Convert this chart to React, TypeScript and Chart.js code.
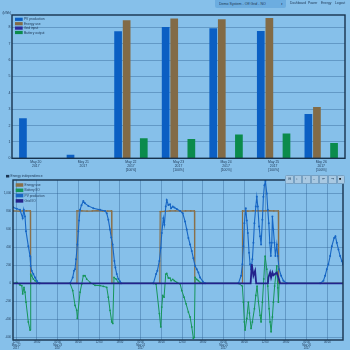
import React, { useEffect, useRef } from "react";
import { Chart, registerables } from "chart.js";
Chart.register(...registerables);

const BG = "#86c0ea";
const INK = "#1c3553";
const FRAME = "#17324d";
const GRID = "rgba(45,95,145,0.5)";
const FONT = "Liberation Sans";

// ---------- Top chart (daily energy, kWh) ----------
const dayLabels = [
  ["May 20", "2017"],
  ["May 21", "2017"],
  ["May 22", "2017", "[100%]"],
  ["May 23", "2017", "[100%]"],
  ["May 24", "2017", "[100%]"],
  ["May 25", "2017", "[100%]"],
  ["May 26", "2017", "[100%]"],
];
const pvDaily = [2.44, 0.22, 7.76, 8.02, 7.94, 7.78, 2.7];
const useDaily = [0, 0, 8.43, 8.54, 8.49, 8.57, 3.13];
const gridDaily = [0, 0, 0, 0, 0, 0, 0];
const batteryDaily = [0, 0, 1.22, 1.18, 1.46, 1.52, 0.93];
const kwhTicks = [0, 1, 2, 3, 4, 5, 6, 7, 8];

// ---------- Bottom chart (power, W; x in hours from May 22 12:00) ----------
const hourTicks = [0, 6, 12, 18, 24, 30, 36, 42, 48, 54, 60, 66, 72, 78, 84, 90];
const hourTickLabels: (string | string[])[] = [
  ["12:00", "May 22", "2017"], "18:00", ["00:00", "May 23", "2017"], "06:00",
  "12:00", "18:00", ["00:00", "May 24", "2017"], "06:00",
  "12:00", "18:00", ["00:00", "May 25", "2017"], "06:00",
  "12:00", "18:00", ["00:00", "May 26", "2017"], "06:00",
];
const powerTicks = [-600, -400, -200, 0, 200, 400, 600, 800, 1000];

const pvTimes = [
  -0.9, 0.2, 1.13, 1.9, 2.2, 2.57, 2.86, 3.53, 4.02, 4.22, 4.51, 4.97, 5.47, 5.96, 6.42, 6.8,
  15.59, 16.37, 16.74, 17.03, 17.32, 17.7, 17.99, 18.2, 18.48, 18.9, 19.43, 19.92, 20.88, 22.33, 24.26, 25.71, 26.2, 26.66, 27.15, 27.5, 27.9, 28.4, 28.69, 29.09, 29.55, 30.05, 30.4,
  39.68, 40.46, 40.83, 41.41, 41.82, 42.11, 42.57, 42.86, 43.26, 43.55, 44.01, 44.51, 44.79, 45.29, 45.75, 46.44, 47.4, 48.18, 48.84, 49.33, 49.8, 50.29, 50.78, 51.24, 51.73, 52.23, 52.69, 53.18, 53.96, 54.63,
  64.26, 65.04, 65.41, 65.7, 65.99, 66.4, 66.69, 66.98, 67.35, 67.64, 67.93, 68.31, 68.6, 68.89, 69.29, 69.58, 69.87, 70.24, 70.53, 70.82, 71.2, 71.49, 71.78, 72.07, 72.47, 72.76, 73.05, 73.34, 73.63, 73.92, 74.09, 74.38, 74.67, 74.96, 75.36, 75.65, 76.03, 76.61, 77.27, 78.25,
  87.88, 88.84, 89.33, 89.82, 90.28, 90.78, 91.27, 91.93, 92.31, 92.71, 93.18, 93.67, 94.16, 94.5,
];
const pvPower = [
  846, 830, 818, 725, 820, 744, 579, 414, 304, 195, 140, 103, 66, 30, 4, 0,
  0, 66, 140, 158, 268, 433, 579, 700, 818, 870, 916, 890, 862, 835, 818, 806, 780, 708, 598, 510, 433, 250, 176, 103, 48, 22, 0,
  0, 103, 140, 250, 396, 561, 725, 652, 854, 927, 872, 879, 835, 854, 843, 828, 806, 780, 689, 598, 505, 433, 359, 279, 195, 158, 121, 66, 22, 0,
  0, 85, 213, 414, 670, 835, 700, 561, 341, 213, 158, 268, 451, 670, 854, 964, 854, 634, 524, 433, 708, 964, 1092, 1140, 1000, 818, 670, 451, 304, 451, 744, 598, 451, 304, 433, 304, 158, 85, 30, 0,
  0, 30, 85, 158, 213, 304, 414, 505, 524, 451, 378, 304, 250, 213,
];

const useTimes = [
  -0.9, 1, 2, 3, 4.1, 4.2, 17.52, 17.6, 19, 20.5, 22, 23.5, 25, 26.5, 27.6, 27.7,
  41.55, 41.65, 43, 44.5, 46, 47.5, 49, 50.5, 51.55, 51.65, 65.35, 65.45, 67, 68.5, 70, 71.5, 73, 74.5, 75.8, 75.9, 94.5,
];
const usePower = [
  806, 804, 808, 806, 806, 0, 0, 806, 808, 804, 806, 810, 806, 804, 806, 0,
  0, 799, 802, 806, 808, 804, 806, 806, 806, 0, 0, 806, 804, 808, 806, 806, 810, 806, 806, 0, 0,
];

const batteryTimes = [
  -0.9, 0.2, 1.13, 1.65, 1.9, 2.28, 2.57, 2.86, 3.53, 4.02, 4.22, 4.51, 4.97, 5.47, 5.96, 6.42, 6.8,
  15.59, 16.37, 17.03, 17.52, 17.7, 18.48, 18.97, 19.43, 19.92, 20.41, 21.37, 22.82, 24.26, 25.22, 26.2, 26.66, 27.15, 27.65, 27.94, 28.3, 28.92, 29.55, 30.05,
  39.68, 40.46, 41.41, 41.82, 42.11, 42.39, 42.77, 43.26, 43.55, 44.01, 44.51, 44.79, 45.29, 45.75, 46.44, 47.4, 47.89, 48.55, 49.13, 49.8, 50.29, 50.78, 51.24, 51.5, 51.75, 52.23, 52.69, 53.18, 53.96,
  64.26, 65.41, 65.7, 65.99, 66.2, 66.69, 67.15, 67.44, 67.93, 68.31, 68.89, 69.29, 69.66, 70.04, 70.53, 70.82, 71.2, 71.6, 71.98, 72.47, 72.76, 73.13, 73.42, 73.71, 74.09, 74.38, 74.73, 75.36, 75.65, 75.82, 76.03, 94.5,
];
const batteryPower = [
  0, 10, -18, -25, -117, -44, -99, -209, -429, -520, 103, 85, 48, 30, 12, 4, 0,
  0, -80, -245, -300, -390, -99, -7, 85, 85, 48, 11, -22, -25, -33, -44, -154, -300, -429, -446, 66, 48, 11, 0,
  0, -7, -336, -484, -264, -135, -154, 103, 110, 60, 59, 30, 44, 30, 11, -5, -80, -154, -227, -319, -374, -484, -611, -600, 66, 44, 30, 11, 0,
  0, -30, -209, -429, -520, -391, -209, -330, -501, -429, -282, -135, -30, -200, -355, -429, -209, 50, 304, 158, -30, -282, -429, -538, -374, -209, -30, 195, -50, -209, 0, 0,
];

const gridTimes = [-0.9, 67.8, 68.13, 68.6, 69.09, 69.4, 72.8, 72.93, 73.42, 73.71, 74.09, 74.38, 75.36, 75.82, 76.32, 94.5];
const gridPower = [0, 0, 213, 85, 140, 0, 0, 66, 121, 66, 121, 90, 121, 66, 0, 0];

const toPoints = (xs: number[], ys: number[]) => xs.map((x, i) => ({ x, y: ys[i] }));

// ---------- small plugins ----------
function legendPlugin(cfg: { x: number; y: number; step: number; bw: number; bh: number; size: number; order: number[] }) {
  return {
    id: "inlineLegend",
    afterDatasetsDraw(chart: any) {
      const ctx = chart.ctx;
      ctx.save();
      ctx.font = `${cfg.size}px "${FONT}"`;
      ctx.textBaseline = "middle";
      cfg.order.forEach((idx, k) => {
        const ds = chart.data.datasets[idx];
        const y = cfg.y + k * cfg.step;
        ctx.fillStyle = ds.legendColor;
        ctx.fillRect(cfg.x, y - cfg.bh / 2, cfg.bw, cfg.bh);
        ctx.fillStyle = INK;
        ctx.fillText(ds.label, cfg.x + cfg.bw + 1.2, y + 0.2);
      });
      ctx.restore();
    },
  };
}

function framePlugin(width: number) {
  return {
    id: "frame",
    afterDraw(chart: any) {
      const { ctx, chartArea: a } = chart;
      ctx.save();
      ctx.strokeStyle = FRAME;
      ctx.lineWidth = width;
      ctx.strokeRect(a.left, a.top, a.right - a.left, a.bottom - a.top);
      ctx.restore();
    },
  };
}

function textPlugin(items: { text: string; x: number; y: number; size: number; icon?: boolean }[]) {
  return {
    id: "texts",
    afterDraw(chart: any) {
      const ctx = chart.ctx;
      ctx.save();
      ctx.textBaseline = "middle";
      items.forEach((it) => {
        ctx.font = `${it.size}px "${FONT}"`;
        ctx.fillStyle = INK;
        if (it.icon) ctx.fillRect(it.x - 4.5, it.y - 1.3, 3.3, 2.6);
        ctx.fillText(it.text, it.x, it.y);
      });
      ctx.restore();
    },
  };
}

function Tiny({ x, y, size, children, color = INK }: any) {
  return (
    <div
      style={{
        position: "absolute",
        left: x,
        top: y,
        fontSize: size * 3,
        lineHeight: 1,
        transform: "scale(0.3333)",
        transformOrigin: "0 0",
        whiteSpace: "nowrap",
        fontFamily: FONT,
        color,
      }}
    >
      {children}
    </div>
  );
}

const toolIcons = ["⊟", "↕", "‹", "–", "⇤", "⇥", "■"];

export default function App() {
  const topRef = useRef<HTMLCanvasElement>(null);
  const botRef = useRef<HTMLCanvasElement>(null);

  useEffect(() => {
    Chart.defaults.font.family = FONT;

    const barSet = (label: string, data: number[], color: string) => ({
      label,
      data,
      backgroundColor: color,
      legendColor: color,
      categoryPercentage: 0.72,
      barPercentage: 0.9,
      borderWidth: 0,
    });

    const c1 = new Chart(topRef.current!, {
      type: "bar",
      data: {
        labels: dayLabels,
        datasets: [
          barSet("PV production", pvDaily, "#0b5fc3"),
          barSet("Energy use", useDaily, "#826b46"),
          barSet("Grid input", gridDaily, "#2b2c9c"),
          barSet("Battery output", batteryDaily, "#0b8b4c"),
        ] as any,
      },
      options: {
        animation: false,
        responsive: false,
        layout: { padding: { top: 15, right: 5, left: 0, bottom: 0 } },
        plugins: { legend: { display: false }, tooltip: { enabled: false } },
        scales: {
          x: {
            grid: { display: false, drawTicks: false, tickLength: 0 },
            border: { display: false },
            ticks: { color: INK, font: { size: 3.4, lineHeight: 1.08 }, padding: 2.2, maxRotation: 0, autoSkip: false },
            afterFit: (s: any) => { s.height = 13.7; },
          },
          y: {
            min: 0,
            max: 8.75,
            afterBuildTicks: (s: any) => { s.ticks = kwhTicks.map((v) => ({ value: v })); },
            grid: { color: GRID, lineWidth: 0.8, drawTicks: false },
            border: { display: false },
            ticks: { color: INK, font: { size: 3.5 }, padding: 1.5 },
            afterFit: (s: any) => { s.width = 12; },
          },
        },
      } as any,
      plugins: [
        framePlugin(1.4),
        legendPlugin({ x: 15, y: 19.3, step: 4.4, bw: 7.7, bh: 3.2, size: 3.3, order: [0, 1, 2, 3] }),
        textPlugin([{ text: "(kWh)", x: 2.5, y: 13.4, size: 3.2 }]),
      ],
    });

    const lineSet = (label: string, pts: any[], color: string, width: number, radius: number) => ({
      label,
      data: pts,
      borderColor: color,
      backgroundColor: color,
      legendColor: color,
      borderWidth: width,
      pointRadius: radius,
      pointBorderWidth: 0,
      pointBackgroundColor: color,
      pointHoverRadius: 0,
      tension: 0,
      fill: false,
    });

    const c2 = new Chart(botRef.current!, {
      type: "line",
      data: {
        datasets: [
          lineSet("Grid I/O", toPoints(gridTimes, gridPower), "#23238c", 1.8, 0),
          lineSet("PV production", toPoints(pvTimes, pvPower), "#1766c4", 1.1, 1),
          lineSet("Battery I/O", toPoints(batteryTimes, batteryPower), "#16955a", 1.0, 0.9),
          lineSet("Energy use", toPoints(useTimes, usePower), "#8a7049", 1.2, 0.8),
        ] as any,
      },
      options: {
        animation: false,
        responsive: false,
        layout: { padding: { top: 8, right: 7, left: 0, bottom: 0 } },
        plugins: { legend: { display: false }, tooltip: { enabled: false } },
        scales: {
          x: {
            type: "linear",
            min: -0.9,
            max: 94.5,
            afterBuildTicks: (s: any) => { s.ticks = hourTicks.map((v) => ({ value: v })); },
            grid: { color: GRID, lineWidth: 0.8, drawTicks: false },
            border: { display: false },
            ticks: {
              color: INK,
              font: { size: 2.7, lineHeight: 1.05 },
              padding: 1.2,
              maxRotation: 0,
              autoSkip: false,
              callback: (_v: any, i: number) => hourTickLabels[i],
            },
            afterFit: (s: any) => { s.height = 10; },
          },
          y: {
            min: -630,
            max: 1150,
            afterBuildTicks: (s: any) => { s.ticks = powerTicks.map((v) => ({ value: v })); },
            grid: { color: GRID, lineWidth: 0.8, drawTicks: false },
            border: { display: false },
            ticks: { color: INK, font: { size: 2.8 }, padding: 2 },
            afterFit: (s: any) => { s.width = 13; },
          },
        },
      } as any,
      plugins: [
        framePlugin(1.4),
        legendPlugin({ x: 15.7, y: 13, step: 5.3, bw: 7.6, bh: 3.5, size: 3.2, order: [3, 2, 1, 0] }),
        textPlugin([{ text: "Energy independence", x: 10.5, y: 4.2, size: 3.3, icon: true }]),
      ],
    });

    return () => {
      c1.destroy();
      c2.destroy();
    };
  }, []);

  return (
    <div style={{ position: "absolute", left: 0, top: 0, width: 350, height: 350, background: BG, overflow: "hidden" }}>
      <canvas ref={topRef} width={350} height={172} style={{ position: "absolute", left: 0, top: 0, display: "block" }} />
      <canvas ref={botRef} width={350} height={178} style={{ position: "absolute", left: 0, top: 172, display: "block" }} />

      {/* header */}
      <div style={{ position: "absolute", left: 215, top: -3, width: 71, height: 11, background: "#6cade0", borderRadius: 2 }} />
      <Tiny x={218.5} y={2.2} size={3.6}>Demo System - Off Grid - NO</Tiny>
      <Tiny x={281} y={2.2} size={3.4}>▾</Tiny>
      <Tiny x={290} y={1.2} size={3.3}>Dashboard</Tiny>
      <Tiny x={308} y={1.2} size={3.3}>Power</Tiny>
      <Tiny x={320.5} y={1.2} size={3.3}>Energy</Tiny>
      <Tiny x={335} y={1.2} size={3.3}>Logout</Tiny>

      {/* zoom toolbar */}
      {toolIcons.map((ic, i) => (
        <div
          key={i}
          style={{
            position: "absolute",
            left: 285 + i * 8.6,
            top: 174.5,
            width: 8.6,
            height: 9.5,
            boxSizing: "border-box",
            background: "#a9c9e2",
            border: "0.6px solid #78a2c4",
            borderRadius: i === 0 ? "1.5px 0 0 1.5px" : i === toolIcons.length - 1 ? "0 1.5px 1.5px 0" : 0,
          }}
        />
      ))}
      {toolIcons.map((ic, i) => (
        <Tiny key={"t" + i} x={287.6 + i * 8.6} y={177.3} size={3.6} color={i === toolIcons.length - 1 ? "#111" : "#33506c"}>
          {ic}
        </Tiny>
      ))}
    </div>
  );
}
